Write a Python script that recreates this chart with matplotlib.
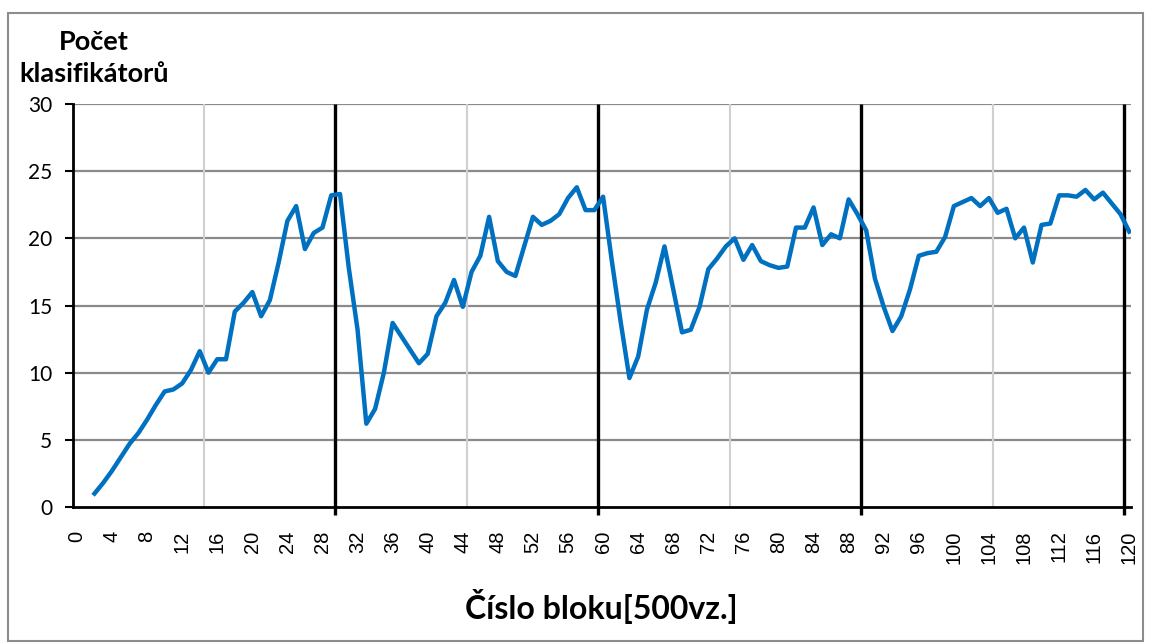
import matplotlib
matplotlib.use("Agg")
import matplotlib.pyplot as plt
from matplotlib.patches import Rectangle
import numpy as np

# block numbers and classifier counts
bloky = list(range(2, 121))
pocet = [
    1.0, 1.8, 2.7, 3.7, 4.7, 5.5, 6.5, 7.6, 8.6, 8.75,          # 2-11
    9.2, 10.2, 11.6, 10.0, 11.0, 11.0, 14.55, 15.2, 16.0, 14.2,  # 12-21
    15.4, 18.2, 21.3, 22.4, 19.2, 20.4, 20.8, 23.2, 23.3, 17.8,  # 22-31
    13.2, 6.2, 7.3, 10.0, 13.7, 12.7, 11.7, 10.7, 11.4, 14.2,    # 32-41
    15.2, 16.9, 14.9, 17.5, 18.7, 21.6, 18.3, 17.5, 17.2, 19.4,  # 42-51
    21.6, 21.0, 21.3, 21.8, 23.0, 23.8, 22.1, 22.1, 23.1, 18.3,  # 52-61
    13.8, 9.6, 11.2, 14.7, 16.7, 19.4, 16.2, 13.0, 13.2, 14.9,   # 62-71
    17.7, 18.5, 19.4, 20.0, 18.4, 19.5, 18.3, 18.0, 17.8, 17.9,  # 72-81
    20.8, 20.8, 22.3, 19.5, 20.3, 20.0, 22.9, 21.8, 20.6, 17.0,  # 82-91
    14.9, 13.1, 14.2, 16.2, 18.7, 18.9, 19.0, 20.1, 22.4, 22.7,  # 92-101
    23.0, 22.4, 23.0, 21.9, 22.2, 20.0, 20.8, 18.2, 21.0, 21.1,  # 102-111
    23.2, 23.2, 23.1, 23.6, 22.9, 23.4, 22.6, 21.8, 20.5,        # 112-120
]
x_ticks = list(range(0, 121, 4))
y_ticks = [0, 5, 10, 15, 20, 25, 30]
svetle_mrizky = [14.5, 44.5, 74.5, 104.5]
cerne_cary = [29.45, 59.45, 89.4, 119.35]

fig = plt.figure(figsize=(11.51, 6.43), dpi=100)
fig.patches.append(Rectangle((8 / 1151, 2 / 643), 1135 / 1151, 628 / 643,
                             transform=fig.transFigure, fill=False,
                             edgecolor="#8c8c8c", linewidth=1.5))

ax = fig.add_axes([73 / 1151, 136 / 643, 1058 / 1151, 403 / 643])
ax.set_xlim(-0.45, 120.2)
ax.set_ylim(0, 30)

for y in y_ticks[1:]:
    ax.axhline(y, color="#8a8a8a", linewidth=1.6, zorder=1)
for x in svetle_mrizky:
    ax.axvline(x, color="#d0d0d0", linewidth=1.5, zorder=1)
for x in cerne_cary:
    ax.plot([x, x], [-0.6, 30], color="black", linewidth=2.4, zorder=2,
            clip_on=False, solid_capstyle="butt")

ax.plot(bloky, pocet, color="#0070C0", linewidth=3.2, zorder=3,
        solid_joinstyle="round")

for side in ["top", "right"]:
    ax.spines[side].set_visible(False)
ax.spines["left"].set_linewidth(2)
ax.spines["bottom"].set_linewidth(2)
ax.spines["left"].set_zorder(4)
ax.spines["bottom"].set_zorder(4)

ax.set_yticks(y_ticks)
ax.set_yticklabels([str(v) for v in y_ticks], family="Lato", fontsize=15)
ax.tick_params(axis="y", length=6, width=1.5, pad=9, direction="out")

ax.set_xticks(x_ticks)
ax.set_xticklabels([str(v) for v in x_ticks], rotation=90,
                   family="Liberation Sans", fontsize=14.5)
ax.tick_params(axis="x", length=0, pad=17)

fig.text(94 / 1151, 1 - 58 / 643, "Počet\nklasifikátorů", ha="center",
         va="center", family="Lato", fontweight="bold", fontsize=19.5,
         linespacing=1.35)
fig.text(601 / 1151, 1 - 607 / 643, "Číslo bloku[500vz.]", ha="center",
         va="center", family="Lato", fontweight="bold", fontsize=23)

fig.savefig("out.png", dpi=100)
